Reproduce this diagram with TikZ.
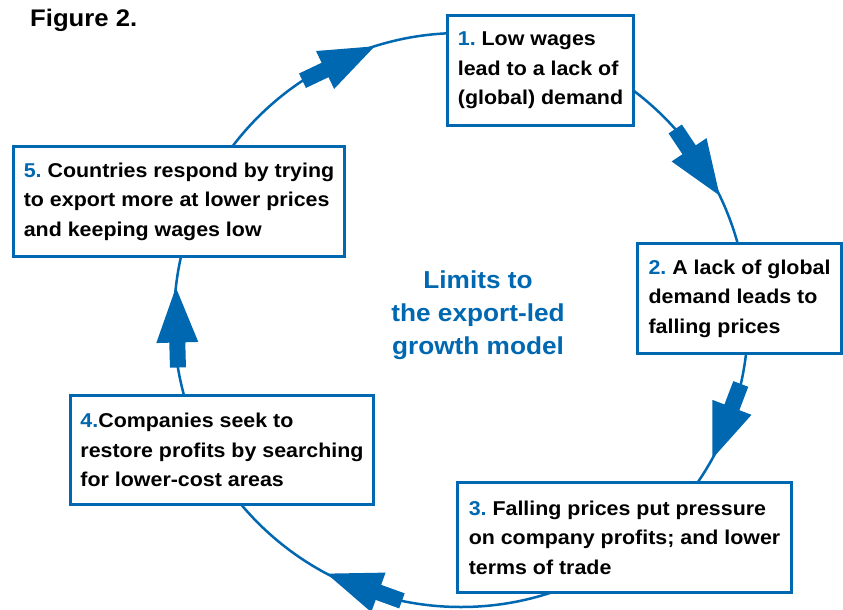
\documentclass[tikz,border=0pt]{standalone}
\usepackage{fontspec}
\setmainfont{Liberation Sans}[FakeStretch=1.07]
\usepackage{tikz}
\definecolor{flowblue}{HTML}{0067B1}
\newcommand{\stepno}[1]{\textcolor{flowblue}{#1}}
\frenchspacing

\begin{document}
\begin{tikzpicture}[x=1pt, y=1pt,
    stage/.style={draw=flowblue, line width=3pt, fill=white, anchor=north west, align=left,
      inner sep=0pt, text=black, font=\bfseries\fontsize{20}{29.5}\selectfont},
    loopline/.style={draw=flowblue, line width=2.5pt},
    flowtip/.pic={\fill[flowblue] (0,0) -- (-55,21) -- (-55,8) -- (-80,8) -- (-80,-8) -- (-55,-8) -- (-55,-21) -- cycle;}]
          \useasboundingbox (0,0) rectangle (843,-610);

          \coordinate (hub) at (461,-320);
          \draw[loopline] (hub) circle[radius=287pt];
          \foreach \t/\n in {107.5/1, 25.7/2, -28.9/3, -117.9/4, 173.5/5} {
            \path (hub) ++(\t:287) coordinate (t\n);
            \pic[rotate=\t-82] at (t\n) {flowtip};
          }

          \node[anchor=base west, inner sep=0pt, font=\bfseries\fontsize{24}{24}\selectfont] (fig) at (30,-27) {Figure 2.};
          \node[align=center, text=flowblue, font=\bfseries\fontsize{24.5}{33}\selectfont] (title) at (478,-315) {Limits to\\the export-led\\growth model};

          \node[stage, minimum width=186pt, minimum height=110pt] (s1) at (446,-14) {\stepno{1.} Low wages\\lead to a lack of\\(global) demand};
          \node[stage, minimum width=204pt, minimum height=110pt] (s2) at (636,-242) {\stepno{2.} A lack of global\\demand leads to\\falling prices};
          \node[stage, minimum width=334pt, minimum height=110pt] (s3) at (456,-481) {\stepno{3.} Falling prices put pressure\\on company profits; and lower\\terms of trade};
          \node[stage, minimum width=303pt, minimum height=109pt] (s4) at (69,-394) {\stepno{4.}Companies seek to\\restore profits by searching\\for lower-cost areas};
          \node[stage, minimum width=331pt, minimum height=110pt] (s5) at (12,-145) {\stepno{5.} Countries respond by trying\\to export more at lower prices\\and keeping wages low};
        \end{tikzpicture}
\end{document}
